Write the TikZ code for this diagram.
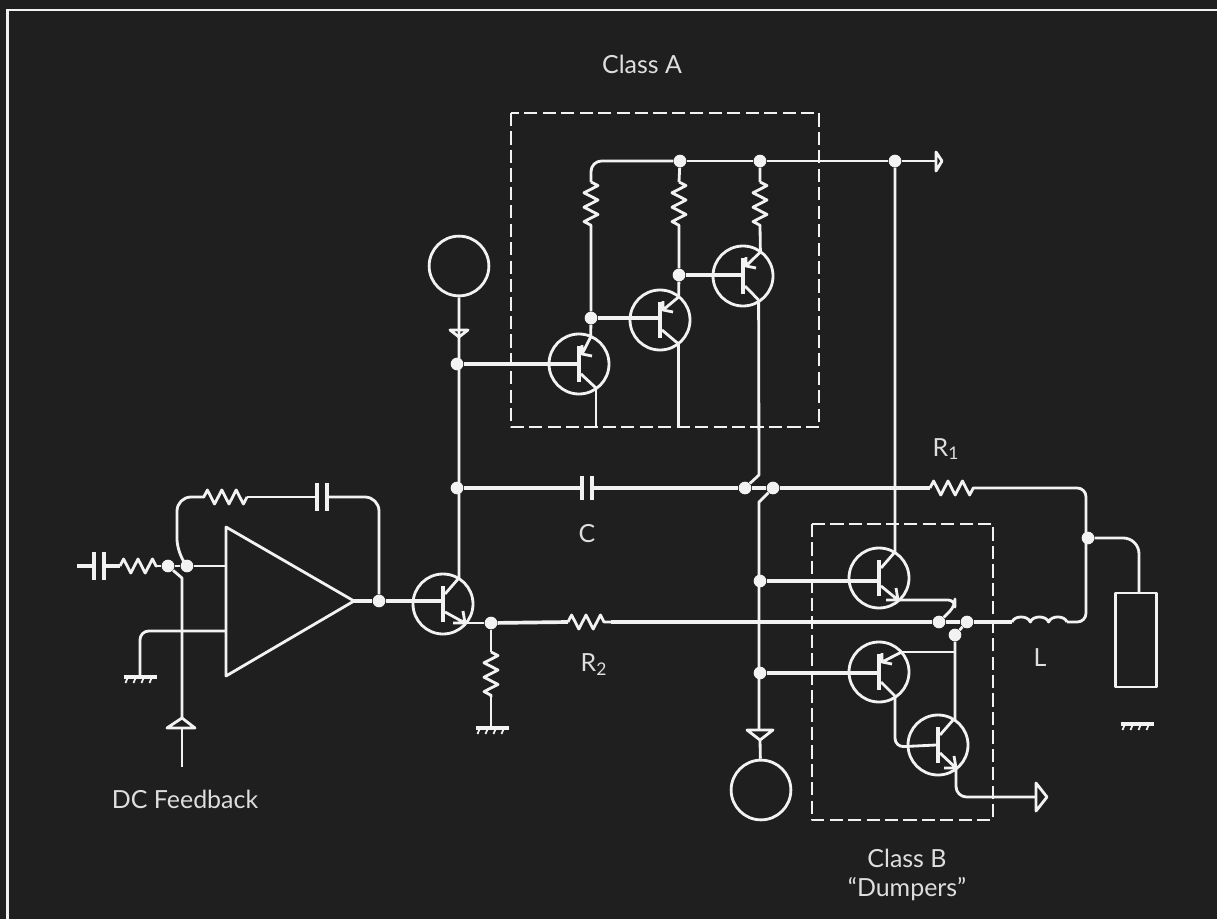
\documentclass[tikz,border=0pt]{standalone}
\usepackage{fontspec}
\setmainfont{Lato}
\usetikzlibrary{calc,decorations.pathmorphing}
\definecolor{panel}{HTML}{1F1F1F}
\definecolor{wire}{HTML}{F2F2F2}
\definecolor{ink}{HTML}{DEDEDE}
\tikzset{
    wiring/.style={draw=wire,line width=1.6pt,line join=round},
    heavy/.style={draw=wire,line width=2.1pt,line join=round},
    res/.style={wiring,decorate,decoration={zigzag,amplitude=4pt,segment length=8.2pt}},
    plate/.style={draw=wire,line width=2.8pt},
    dot/.style={circle,fill=wire,inner sep=0,minimum size=7.2pt},
    source/.style={circle,wiring,inner sep=0,minimum size=34pt},
    lbl/.style={text=ink,font=\fontsize{14.2}{16.2}\selectfont,inner sep=0,align=center},
    pics/npn/.style args={#1,#2}{code={
        \draw[wiring] (0,0) circle (30);
        \draw[draw=wire,line width=2.8pt] (0,-18) -- (0,18);
        \coordinate (-b) at (-2,0);
        \coordinate (-c) at (15.5,-25.5);
        \coordinate (-e) at (#1,#2);
        \draw[wiring] (2,-10) -- (-c);
        \draw[wiring] (2,8) -- (-e) ($(-e)+(-12,0)$) -- (-e) -- ($(-e)+(-2,-12)$);
    }},
    pics/pnp/.style args={#1,#2,#3}{code={
        \draw[wiring] (0,0) circle (30);
        \draw[draw=wire,line width=2.8pt] (0,-18) -- (0,18);
        \coordinate (-b) at (-2,0);
        \coordinate (-e) at (#1,#2);
        \coordinate (-c) at (#3,24);
        \draw[wiring] (-e) -- (3,-10) (13,-8) -- (3,-10) -- (3,-19);
        \draw[wiring] (2,10) -- (-c);
    }},
    pics/gnd/.style={code={
        \draw[draw=wire,line width=1.8pt] (-16.5,0) -- (16.5,0);
        \foreach \tick in {-12,-4,4,12}
            \draw[draw=wire,line width=1pt] (\tick,0) -- ++(-2.5,6);
    }},
}
\newcommand{\capacitor}[2]{% centre, half height
    \draw[plate] ($(#1)+(-5,-#2)$) -- ($(#1)+(-5,#2)$);
    \draw[plate] ($(#1)+(5,-#2)$) -- ($(#1)+(5,#2)$);
}
\begin{document}
\begin{tikzpicture}[x=.02cm,y=-.02cm]
    \useasboundingbox (0,0) rectangle (1217,919);
    \fill[panel] (0,0) rectangle (1217,919);
    \draw[draw=wire,line width=1.5pt] (7.5,919) -- (7.5,10) -- (1217,10);

    % dashed boxes
    \draw[wiring,dash pattern=on 7.5pt off 3pt] (511,113) rectangle (819,427);
    \draw[wiring,dash pattern=on 7.5pt off 3pt] (812,524) rectangle (993,820);

    % transistors
    \pic (t0) at (443,604) {npn={22,19}};
    \pic (qa1) at (579,364) {pnp={11.7,-27,17}};
    \pic (qa2) at (660,320) {pnp={18.6,-23,18.6}};
    \pic (qa3) at (743,276) {pnp={17.4,-24,15.6}};
    \pic (qb1) at (879,578) {npn={19,22}};
    \pic (qb2) at (879,672) {pnp={22.7,-20,16}};
    \pic (qb3) at (938,745) {npn={18,23}};

    % sources and the load
    \node[source] (vplus) at (459,266) {};
    \node[source] (vminus) at (761,790) {};
    \node[wiring,minimum width=23.4pt,minimum height=53.6pt,inner sep=0] (load) at (1136,640) {};

    % junctions
    \node[dot] (jrail1) at (680,161) {};
    \node[dot] (jrail2) at (760,161) {};
    \node[dot] (jrail3) at (895,161) {};
    \node[dot] (ja2) at (679,275) {};
    \node[dot] (ja1) at (591,318) {};
    \node[dot] (jbase) at (457,364) {};
    \node[dot] (jcap) at (457,488) {};
    \node[dot] (jc1) at (745,488) {};
    \node[dot] (jc2) at (773,488) {};
    \node[dot] (jout) at (1088,538) {};
    \node[dot] (jb1) at (760,581) {};
    \node[dot] (jb2) at (760,673) {};
    \node[dot] (jm1) at (939,622) {};
    \node[dot] (jm2) at (967,622) {};
    \node[dot] (jm3) at (955,635) {};
    \node[dot] (je) at (491,623) {};
    \node[dot] (jamp) at (379,601) {};
    \node[dot] (jin1) at (168,566) {};
    \node[dot] (jin2) at (187,566) {};

    % op amp
    \node[inner sep=0] (ampin) at (226,566) {};
    \node[inner sep=0] (ampfb) at (226,631) {};
    \node[inner sep=0] (amptip) at (354,601) {};
    \draw[wiring] (226,527) -- (amptip.center) -- (226,676) -- cycle;

    % named pins
    \coordinate (r1a) at (591,182);
    \coordinate (r1b) at (591,227);
    \coordinate (r2a) at (679,182);
    \coordinate (r2b) at (679,226);
    \coordinate (r3a) at (760,182);
    \coordinate (r3b) at (760,226);
    \coordinate (rfa) at (247,497);
    \coordinate (rfb) at (203,497);
    \coordinate (capf) at (322,497);
    \coordinate (capin) at (99,566);
    \coordinate (capc) at (587,488);
    \coordinate (rina) at (120,566);
    \coordinate (rinb) at (157,566);
    \coordinate (r4a) at (491,652);
    \coordinate (r4b) at (491,697);
    \coordinate (r5a) at (568,622);
    \coordinate (r5b) at (611,622);
    \coordinate (r6a) at (930,488);
    \coordinate (r6b) at (974,488);
    \coordinate (la) at (1012,622);
    \coordinate (lb) at (1067,622);

    % rail and class A stage
    \draw[wiring,rounded corners=6pt] (r1a) -- (591,161) -- (jrail1);
    \draw[wiring] (jrail1) -- (jrail2) -- (jrail3) -- (936,161);
    \draw[wiring] (936,152) -- (942,161) -- (936,171) -- cycle;
    \draw[wiring] (jrail1) -- (r2a) (jrail2) -- (r3a);
    \draw[res] (r1a) -- (r1b);
    \draw[res] (r2a) -- (r2b);
    \draw[res] (r3a) -- (r3b);
    \draw[wiring] (r1b) -- (ja1) -- (qa1-e);
    \draw[wiring] (r2b) -- (ja2) -- (qa2-e);
    \draw[wiring] (r3b) -- (qa3-e);
    \draw[heavy] (ja1) -- (ja1 -| qa2-b);
    \draw[heavy] (ja2) -- (ja2 -| qa3-b);
    \draw[heavy] (jbase) -- (jbase -| qa1-b);
    \draw[wiring] (qa1-c) -- (qa1-c |- 0,427);
    \draw[wiring] (qa2-c) -- (qa2-c |- 0,427);
    \draw[wiring] (qa3-c) -- (759,475) -- (jc1);

    % drive from the upper source
    \draw[wiring] (vplus) -- (459,578) -- (t0-c);
    \draw[wiring] (450,330) -- (468,330) -- (459,337) -- cycle;

    % bootstrap line
    \draw[heavy] (jcap) -- ($(capc)+(-5,0)$);
    \draw[heavy] ($(capc)+(5,0)$) -- (jc1) -- (jc2) -- (r6a);
    \capacitor{capc}{12}
    \draw[res] (r6a) -- (r6b);
    \draw[wiring,rounded corners=5pt] (r6b) -- (1086,488) -- (1086,622) -- (lb);
    \draw[wiring,rounded corners=9pt] (jout) -- (1139,538) -- (1139,592);

    % lower source
    \draw[wiring] (jc2) -- (759,502) -- (759,730);
    \draw[wiring] (747,730) -- (773,730) -- (760,740) -- cycle;
    \draw[wiring] (760,740) -- (vminus);

    % class B stage
    \draw[heavy] (jb1) -- (jb1 -| qb1-b);
    \draw[heavy] (jb2) -- (jb2 -| qb2-b);
    \draw[wiring] (jrail3) -- (895,552) -- (qb1-c);
    \draw[wiring,rounded corners=4pt] (qb1-e) -- (955,600) -- (955,606) -- (jm1);
    \draw[wiring] (jm3) -- (jm2);
    \draw[wiring] (jm3) -- (955,720) -- (qb3-c);
    \draw[wiring] (955,652) -- (qb2-e);
    \draw[wiring,rounded corners=5pt] (qb2-c) -- (895,747) -- (qb3-b);
    \draw[wiring,rounded corners=6pt] (qb3-e) -- (956,797) -- (1036,797);
    \draw[wiring] (1036,783) -- (1047,797) -- (1036,811) -- cycle;

    % main output line
    \draw[wiring] (t0-e) -- (je);
    \draw[heavy] (je) -- (r5a);
    \draw[res] (r5a) -- (r5b);
    \draw[heavy] (r5b) -- (jm1) -- (jm2) -- (la);
    \draw[wiring] (la) to[out=70,in=110] ++(18.3,0) to[out=70,in=110] ++(18.3,0) to[out=70,in=110] (lb);
    \draw[wiring] (je) -- (r4a);
    \draw[res] (r4a) -- (r4b);
    \draw[wiring] (r4b) -- (491,728);
    \pic at (492,728) {gnd};

    % op amp wiring
    \draw[heavy] (amptip.center) -- (jamp) -- (jamp -| t0-b);
    \draw[wiring,rounded corners=8pt] (jamp) -- (379,497) -- ($(capf)+(5,0)$);
    \draw[wiring] ($(capf)+(-5,0)$) -- (rfa);
    \capacitor{capf}{14}
    \draw[res] (rfa) -- (rfb);
    \draw[wiring,rounded corners=8pt] (rfb) -- (177,497) -- (177,553) -- (jin2);
    \draw[heavy] (77,566) -- ($(capin)+(-5,0)$);
    \draw[heavy] ($(capin)+(5,0)$) -- (rina);
    \capacitor{capin}{14}
    \draw[res] (rina) -- (rinb);
    \draw[wiring] (rinb) -- (jin1) -- (jin2) -- (ampin.center);
    \draw[wiring,rounded corners=5pt] (ampfb.center) -- (140,631) -- (140,677);
    \pic at (140,677) {gnd};
    \draw[wiring] (jin1) -- (182,578) -- (182,718);
    \draw[wiring] (167,728) -- (195,728) -- (182,718) -- cycle;
    \draw[wiring] (182,728) -- (182,767);

    \pic at (1137,724) {gnd};

    % labels
    \node[lbl] (classa) at (642,64) {Class A};
    \node[lbl] (classb) at (907,875) {Class B\\“Dumpers”};
    \node[lbl] (feedback) at (185,799) {DC Feedback};
    \node[lbl] (labc) at (587,534) {C};
    \node[lbl] (labl) at (1040,658) {L};
    \node[lbl] (labra) at (946,449) {R$_{\mathrm{1}}$};
    \node[lbl] (labrb) at (594,665) {R$_{\mathrm{2}}$};
\end{tikzpicture}
\end{document}
